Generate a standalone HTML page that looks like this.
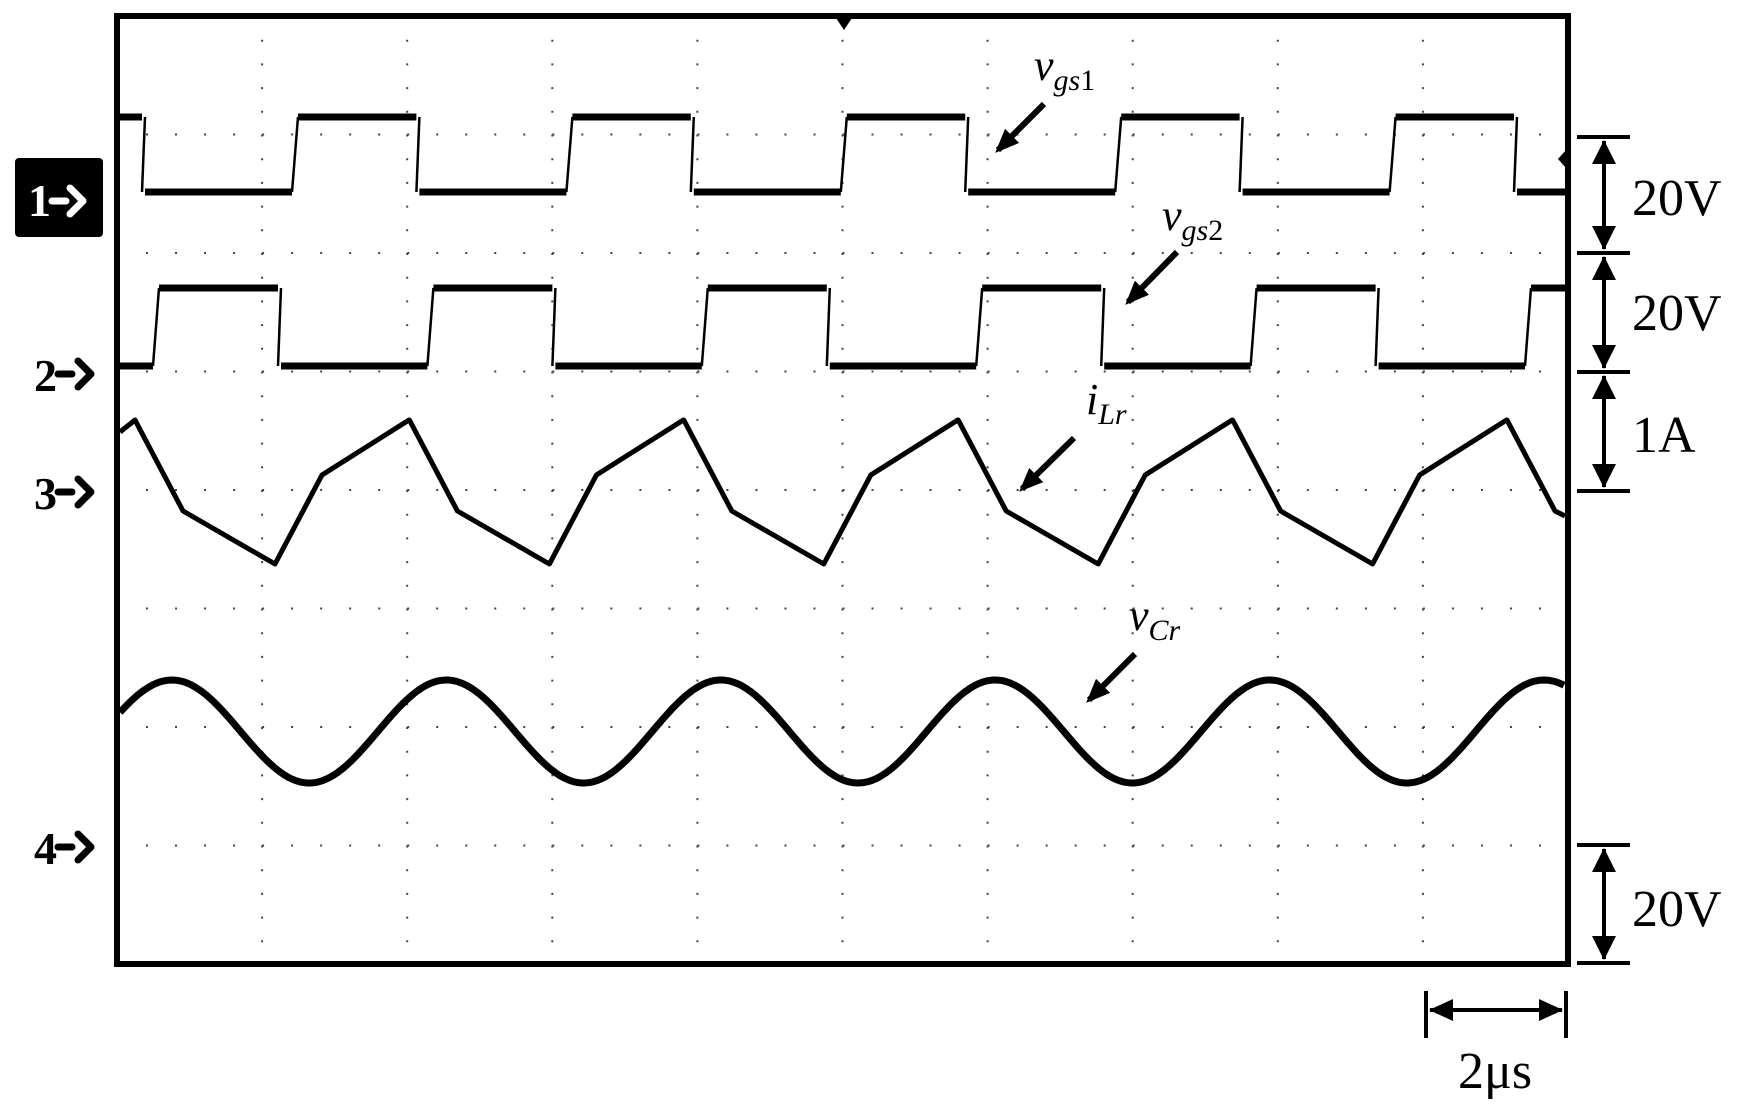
<!DOCTYPE html>
<html><head><meta charset="utf-8"><style>
html,body{margin:0;padding:0;background:#fff;}
svg{display:block;}
text{font-family:"Liberation Serif",serif;fill:#000;}
</style></head><body>
<svg id="s" width="1741" height="1116" viewBox="0 0 1741 1116" xmlns="http://www.w3.org/2000/svg">
<defs>
<marker id="ah" markerWidth="24" markerHeight="24" refX="20" refY="12" orient="auto" markerUnits="userSpaceOnUse" viewBox="0 0 24 24"><path d="M0,2 L24,12 L0,22 z" fill="#000"/></marker>
</defs>
<g id="grid" stroke="#444" stroke-width="2" fill="none"></g>
<g id="waves" fill="none" stroke="#000" stroke-linejoin="round"></g>
<rect x="117" y="16" width="1451" height="948" fill="none" stroke="#000" stroke-width="6"/>
<path d="M836,18 L852,18 L844,30 z" fill="#000"/>
<path d="M1566,150 L1558,159 L1566,168 z" fill="#000"/>
<rect x="15" y="158" width="88" height="79" rx="4" fill="#000"/>
<text x="28" y="216" font-size="46" font-weight="bold" style="fill:#fff">1</text>
<path d="M52,201 h14 M70,188 l13,13 l-13,13" stroke="#fff" stroke-width="7" fill="none" stroke-linecap="round" stroke-linejoin="round"/>
<g font-size="46" font-weight="bold">
<text x="34" y="391">2</text><text x="34" y="509">3</text><text x="34" y="864">4</text>
</g>
<g stroke="#000" stroke-width="7" fill="none" stroke-linecap="round" stroke-linejoin="round">
<path d="M58,374 h14 M78,361 l13,13 l-13,13"/>
<path d="M58,492 h14 M78,479 l13,13 l-13,13"/>
<path d="M58,847 h14 M78,834 l13,13 l-13,13"/>
</g>
<g stroke="#000" stroke-width="4" fill="none">
<path d="M1577,137 h53 M1577,253 h53 M1577,372 h53 M1577,491 h53 M1577,845 h53 M1577,963 h53"/>
<path d="M1604,141 V249 M1604,257 V368 M1604,376 V487 M1604,849 V959"/>
<path d="M1426,991 V1038 M1566,991 V1038 M1430,1010 H1562"/>
</g>
<g fill="#000">
<path d="M1604,140 l-12,24 h24 z M1604,250 l-12,-24 h24 z M1604,256 l-12,24 h24 z M1604,369 l-12,-24 h24 z M1604,375 l-12,24 h24 z M1604,488 l-12,-24 h24 z M1604,848 l-12,24 h24 z M1604,960 l-12,-24 h24 z"/>
<path d="M1429,1010 l24,-11 v22 z M1563,1010 l-24,-11 v22 z"/>
</g>
<g font-size="52">
<text x="1632" y="215">20V</text>
<text x="1632" y="330">20V</text>
<text x="1632" y="452">1A</text>
<text x="1632" y="926">20V</text>
<text x="1458" y="1088">2μs</text>
</g>
<g font-size="44" font-style="italic">
<text x="1034" y="80">v<tspan font-size="30" dy="10">gs</tspan><tspan font-size="30" font-style="normal">1</tspan></text>
<text x="1162" y="230">v<tspan font-size="30" dy="10">gs</tspan><tspan font-size="30" font-style="normal">2</tspan></text>
<text x="1086" y="414">i<tspan font-size="30" dy="10">Lr</tspan></text>
<text x="1129" y="630">v<tspan font-size="30" dy="10">Cr</tspan></text>
</g>
<g stroke="#000" stroke-width="6" marker-end="url(#ah)">
<line x1="1044" y1="104" x2="998" y2="150"/>
<line x1="1177" y1="252" x2="1128" y2="302"/>
<line x1="1074" y1="438" x2="1022" y2="489"/>
<line x1="1135" y1="654" x2="1089" y2="700"/>
</g>
</svg>
<script>
var NS="http://www.w3.org/2000/svg";
var g=document.getElementById('grid'),w=document.getElementById('waves');
function el(p,t,a){var e=document.createElementNS(NS,t);for(var k in a)e.setAttribute(k,a[k]);p.appendChild(e);return e;}
var L=117,R=1568,T=16,B=964,dx=(R-L)/10,dy=(B-T)/8;
for(var i=1;i<10;i++){var x=L+i*dx;el(g,'line',{x1:x,y1:T,x2:x,y2:B,'stroke-dasharray':'2 '+(dy/5-2)});}
for(var j=1;j<8;j++){var y=T+j*dy;el(g,'line',{x1:L,y1:y,x2:R,y2:y,'stroke-dasharray':'2 '+(dx/5-2)});}
var P=274.4;
function sq(hi,lo,rises,falls,startHigh,endX){
 // thick horizontals, thin edges
 var ev=[];rises.forEach(function(r){ev.push([r,1]);});falls.forEach(function(f){ev.push([f,0]);});
 ev.sort(function(a,b){return a[0]-b[0];});
 var x=120,st=startHigh;
 ev.forEach(function(e){var ex=e[0];if(ex>endX)return;
  el(w,'line',{x1:x,y1:st?hi:lo,x2:ex,y2:st?hi:lo,'stroke-width':7});
  el(w,'line',{x1:ex,y1:lo,x2:e[1]?ex+6:ex+3,y2:hi,'stroke-width':2.5});
  x=ex+(e[1]?6:3);st=e[1];});
 el(w,'line',{x1:x,y1:st?hi:lo,x2:endX,y2:st?hi:lo,'stroke-width':7});
}
var r1=[],f1=[],r2=[],f2=[];
for(var k=0;k<6;k++){r1.push(292+k*P);f1.push(142+k*P);r2.push(153+k*P);f2.push(278+k*P);}
sq(117,192,r1,f1,true,R-3);
sq(288,366,r2,f2,false,R-3);
var d='M120,432';
for(var k=0;k<6;k++){var o=135+k*P;var pts=[[0,420],[48,511],[140,564],[187,475],[274,420]];
 for(var p=0;p<pts.length;p++){var x=o+pts[p][0];if(x>R-3){break;}d+=' L'+x.toFixed(1)+','+pts[p][1];}
}
d+=' L1565,516';
el(w,'path',{d:d,'stroke-width':5});
d='';
for(var x=120;x<=R-3;x+=2){var ph=(x-172)/P*2*Math.PI;var c=Math.cos(ph);var y=731.5-51.5*c;d+=(d?' L':'M')+x+','+y.toFixed(1);}
el(w,'path',{d:d,'stroke-width':7});
</script>
</body></html>
